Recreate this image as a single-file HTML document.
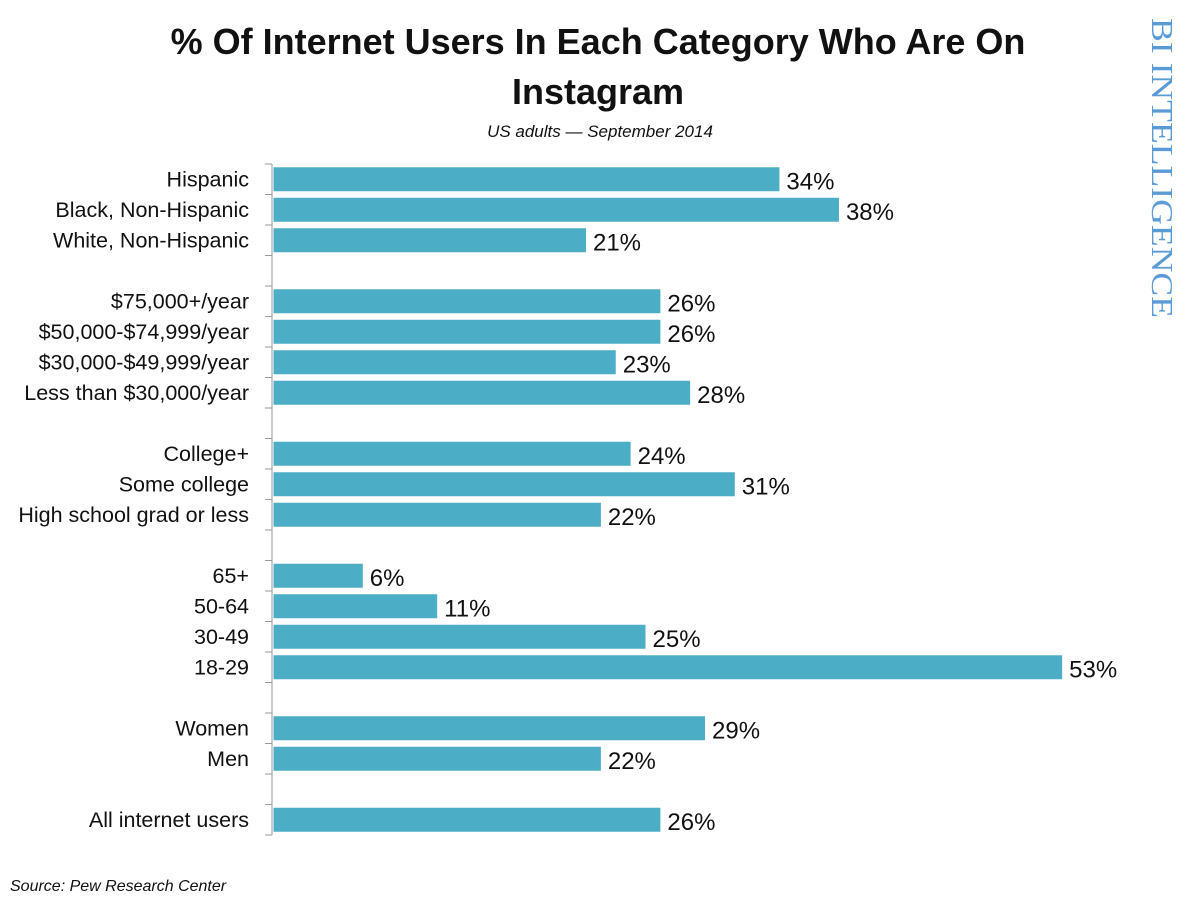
<!DOCTYPE html>
<html><head><meta charset="utf-8"><style>
html,body{margin:0;padding:0;background:#fff;}
svg{display:block;font-family:"Liberation Sans",sans-serif;}
</style></head><body>
<svg id="chart" width="1200" height="900" viewBox="0 0 1200 900">
<rect x="0" y="0" width="1200" height="900" fill="#fff"/>
<text x="598" y="54" text-anchor="middle" font-size="36" font-weight="bold" fill="#111">% Of Internet Users In Each Category Who Are On</text>
<text x="598" y="104" text-anchor="middle" font-size="36" font-weight="bold" fill="#111">Instagram</text>
<text x="600" y="137" text-anchor="middle" font-size="17" font-style="italic" fill="#111">US adults — September 2014</text>
<text transform="translate(1152,18) rotate(90)" font-family="Liberation Serif,serif" font-size="31" fill="#5b9bd5" textLength="300" lengthAdjust="spacingAndGlyphs">BI INTELLIGENCE</text>
<text x="10" y="891" font-size="16" font-style="italic" fill="#111">Source: Pew Research Center</text>
<g id="plot"></g>
</svg>
<script>
const categories = ["Hispanic","Black, Non-Hispanic","White, Non-Hispanic",null,"$75,000+/year","$50,000-$74,999/year","$30,000-$49,999/year","Less than $30,000/year",null,"College+","Some college","High school grad or less",null,"65+","50-64","30-49","18-29",null,"Women","Men",null,"All internet users"];
const values = [34,38,21,null,26,26,23,28,null,24,31,22,null,6,11,25,53,null,29,22,null,26];
const NS="http://www.w3.org/2000/svg";
const g=document.getElementById('plot');
const x0=273.5, pxPer=14.88, plotTop=164, slot=30.5, barH=24;
const xScale=v=>x0+v*pxPer;
const yScale=i=>plotTop+i*slot;
function mk(t,a){const e=document.createElementNS(NS,t);for(const k in a)e.setAttribute(k,a[k]);g.appendChild(e);return e;}
const axis=mk('line',{x1:272,y1:plotTop,x2:272,y2:yScale(categories.length),stroke:'#999','stroke-width':1});


for(let i=0;i<=categories.length;i++){
  const t=mk('line',{x1:265,x2:272,y1:yScale(i),y2:yScale(i),stroke:'#999','stroke-width':1});
  
  
}
categories.forEach((c,i)=>{
  if(c===null)return;
  const cy=yScale(i)+slot/2;
  const l=mk('text',{x:249,y:cy+7,'text-anchor':'end','font-size':21.5,fill:'#111'});
  l.textContent=c;
  
  
  const v=values[i];
  const b=mk('rect',{x:x0,y:cy-barH/2,width:xScale(v)-x0,height:barH,fill:'#4badc6'});
  
  
  const vl=mk('text',{x:xScale(v)+7,y:cy+10,'font-size':24,fill:'#111'});
  vl.textContent=v+'%';
  
  
});
</script>
</body></html>
